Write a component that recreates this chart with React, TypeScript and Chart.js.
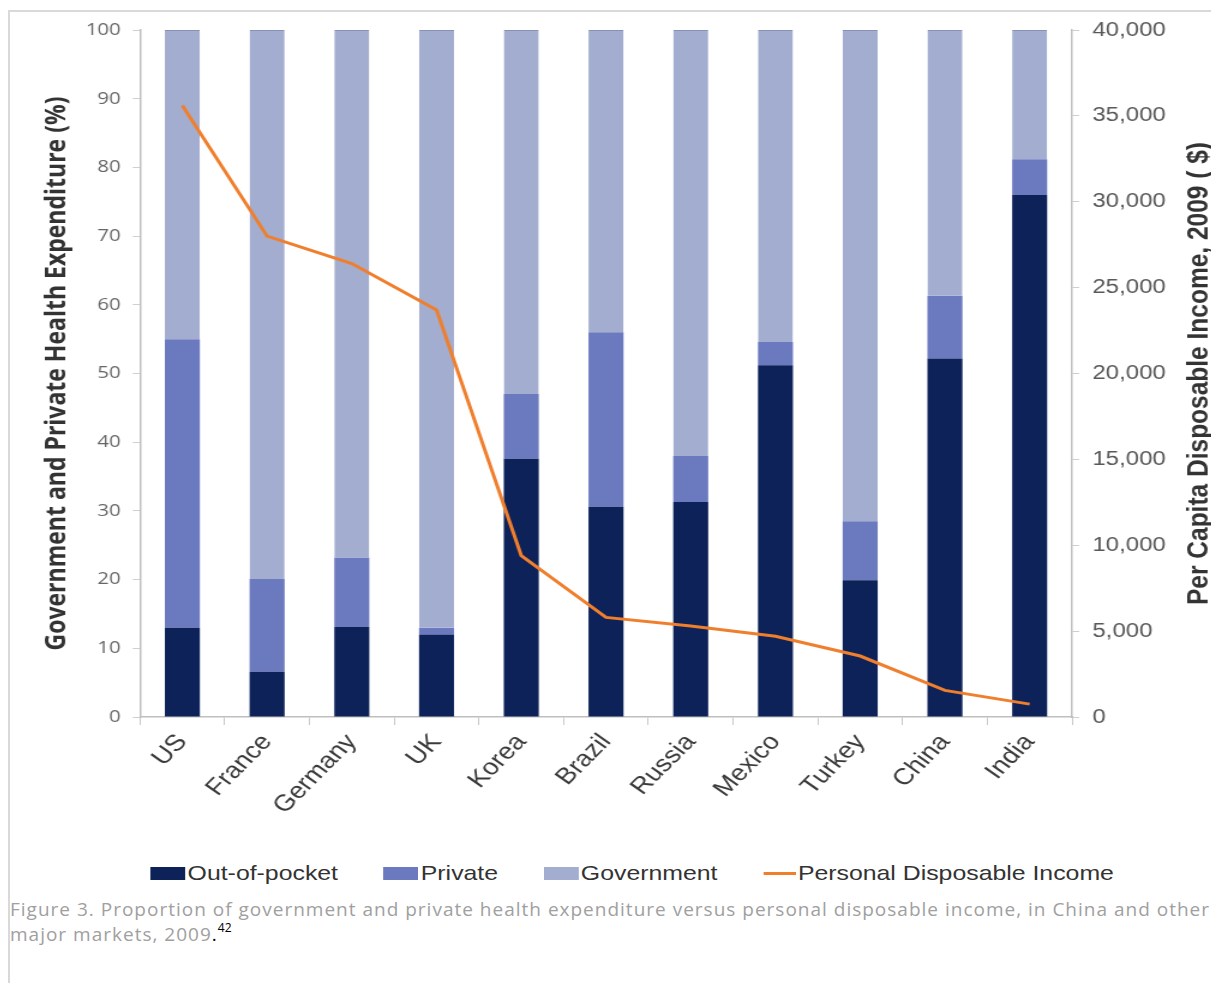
import React, { useEffect, useRef } from 'react';
import { Chart, registerables } from 'chart.js';

Chart.register(...registerables);

const countries = ['US', 'France', 'Germany', 'UK', 'Korea', 'Brazil', 'Russia', 'Mexico', 'Turkey', 'China', 'India'];
const outOfPocket = [13, 6.6, 13.1, 12, 37.6, 30.6, 31.3, 51.2, 19.9, 52.2, 76];
const privateShare = [42, 13.5, 10.1, 1, 9.4, 25.4, 6.7, 3.4, 8.6, 9.1, 5.2];
const government = [45, 79.9, 76.8, 87, 53, 44, 62, 45.4, 71.5, 38.7, 18.8];
const disposableIncome = [35600, 28000, 26400, 23700, 9400, 5800, 5300, 4700, 3550, 1550, 750];

const seriesNames = ['Out-of-pocket', 'Private', 'Government', 'Personal Disposable Income'];
const seriesColors = ['#0d2258', '#6b79bf', '#a3adcf', '#f07f2d'];
const leftTitle = 'Government and Private Health Expenditure (%)';
const rightTitle = 'Per Capita Disposable Income, 2009 ( $)';
const captionLine1 = 'Figure 3. Proportion of government and private health expenditure versus personal disposable income, in China and other';
const captionLine2 = 'major markets, 2009';
const captionRef = '42';

const SX = 1.2;
const INNER_W = 1007;
const INNER_H = 835;
const PLOT_RIGHT = 885;

const rightTitlePlugin = {
  id: 'rightTitle',
  afterDraw(chart: any) {
    const { ctx, chartArea } = chart;
    ctx.save();
    ctx.font = 'bold 24.5px "Liberation Sans", Arial, sans-serif';
    ctx.fillStyle = '#333333';
    ctx.textAlign = 'center';
    ctx.textBaseline = 'middle';
    ctx.translate(991, (chartArea.top + chartArea.bottom) / 2);
    ctx.rotate(-Math.PI / 2);
    ctx.fillText(rightTitle, 0, 0);
    ctx.restore();
  },
};

export default function App() {
  const canvasRef = useRef<HTMLCanvasElement | null>(null);

  useEffect(() => {
    if (!canvasRef.current) return;
    Chart.defaults.font.family = '"Liberation Sans", Arial, sans-serif';
    const chart = new Chart(canvasRef.current, {
      type: 'bar',
      data: {
        labels: countries,
        datasets: [
          {
            type: 'line',
            label: seriesNames[3],
            data: disposableIncome,
            yAxisID: 'y1',
            borderColor: seriesColors[3],
            backgroundColor: seriesColors[3],
            borderWidth: 3,
            pointRadius: 0,
            tension: 0,
            order: 0,
          } as any,
          {
            label: seriesNames[0],
            data: outOfPocket,
            yAxisID: 'y',
            backgroundColor: seriesColors[0],
            borderWidth: 0,
            order: 1,
          },
          {
            label: seriesNames[1],
            data: privateShare,
            yAxisID: 'y',
            backgroundColor: seriesColors[1],
            borderWidth: 0,
            order: 1,
          },
          {
            label: seriesNames[2],
            data: government,
            yAxisID: 'y',
            backgroundColor: seriesColors[2],
            borderColor: '#8791b4',
            borderWidth: { top: 1, left: 0, right: 0, bottom: 0 },
            borderSkipped: false,
            order: 1,
          } as any,
        ],
      },
      options: {
        animation: false,
        responsive: true,
        maintainAspectRatio: false,
        layout: { padding: { top: 18, left: 0, right: 0, bottom: 0 } },
        datasets: {
          bar: { barPercentage: 0.413, categoryPercentage: 1 },
        } as any,
        plugins: {
          legend: { display: false },
          tooltip: { enabled: false },
        },
        scales: {
          x: {
            stacked: true,
            offset: true,
            afterFit: (s: any) => { s.height = 130; },
            grid: { drawOnChartArea: false, drawTicks: true, tickLength: 8, color: '#c8c8c8', offset: true },
            border: { display: true, color: '#bfbfbf', width: 1.5 },
            ticks: {
              autoSkip: false,
              maxRotation: 50,
              minRotation: 50,
              padding: 4,
              color: '#3a3a3a',
              font: { size: 23, family: '"Liberation Sans", Arial, sans-serif' },
            },
          },
          y: {
            stacked: true,
            position: 'left',
            min: 0,
            max: 100,
            afterFit: (s: any) => { s.width = 108.3; s.paddingTop = 0; s.paddingBottom = 0; },
            grid: { drawOnChartArea: false, drawTicks: true, tickLength: 6, color: '#cfcfcf' },
            border: { display: true, color: '#bfbfbf', width: 1.5 },
            ticks: {
              stepSize: 10,
              padding: 10,
              color: '#666666',
              font: { size: 17, family: '"Open Sans", sans-serif' },
            },
            title: {
              display: true,
              text: leftTitle,
              color: '#333333',
              padding: { top: 26, bottom: 0 },
              font: { size: 23, weight: 'bold', family: '"Open Sans", sans-serif' },
            },
          },
          y1: {
            position: 'right',
            min: 0,
            max: 40000,
            afterFit: (s: any) => { s.width = INNER_W - PLOT_RIGHT; s.paddingTop = 0; s.paddingBottom = 0; },
            grid: { drawOnChartArea: false, drawTicks: true, tickLength: 6, color: '#cfcfcf' },
            border: { display: true, color: '#bfbfbf', width: 1.5 },
            ticks: {
              stepSize: 5000,
              padding: 11,
              color: '#595959',
              font: { size: 20, family: '"Liberation Sans", Arial, sans-serif' },
              callback: (v: any) => Number(v).toLocaleString('en-US'),
            },
          },
        },
      } as any,
      plugins: [rightTitlePlugin],
    });
    return () => chart.destroy();
  }, []);

  const legendItems = seriesNames.map((name, i) => (
    <div key={name} style={{ display: 'flex', alignItems: 'center' }}>
      {i < 3 ? (
        <span style={{ display: 'inline-block', width: 29, height: 13, background: seriesColors[i] }} />
      ) : (
        <span style={{ display: 'inline-block', width: 27, height: 3, background: seriesColors[i] }} />
      )}
      <span style={{ marginLeft: 2 }}>{name}</span>
    </div>
  ));

  return (
    <div style={{ position: 'relative', width: 1211, height: 975, overflow: 'hidden' }}>
      <div
        style={{
          position: 'absolute',
          left: 0,
          top: 2,
          width: 1300,
          height: 1100,
          borderTop: '2px solid #d9d9d9',
          borderLeft: '2px solid #d9d9d9',
        }}
      />
      <div
        style={{
          position: 'absolute',
          left: 2,
          top: 4,
          width: INNER_W,
          height: INNER_H,
          transform: `scaleX(${SX})`,
          transformOrigin: '0 0',
        }}
      >
        <canvas ref={canvasRef} />
      </div>
      <div
        style={{
          position: 'absolute',
          left: 2,
          top: 852,
          width: INNER_W,
          height: 26,
          transform: `scaleX(${SX})`,
          transformOrigin: '0 0',
          display: 'flex',
          alignItems: 'center',
          gap: 38,
          paddingLeft: 117,
          boxSizing: 'border-box',
          fontFamily: '"Liberation Sans", Arial, sans-serif',
          fontSize: 20.7,
          color: '#333333',
          whiteSpace: 'nowrap',
        }}
      >
        {legendItems}
      </div>
      <div
        style={{
          position: 'absolute',
          left: 2,
          top: 889,
          fontFamily: '"Open Sans", sans-serif',
          fontSize: 19,
          letterSpacing: '1px',
          lineHeight: '25px',
          color: '#a0a0a0',
          whiteSpace: 'nowrap',
        }}
      >
        <div>{captionLine1}</div>
        <div>
          {captionLine2}
          <span style={{ color: '#000' }}>.</span>
          <span style={{ color: '#000', fontSize: 12, position: 'relative', top: -9, letterSpacing: 0 }}>{captionRef}</span>
        </div>
      </div>
    </div>
  );
}
